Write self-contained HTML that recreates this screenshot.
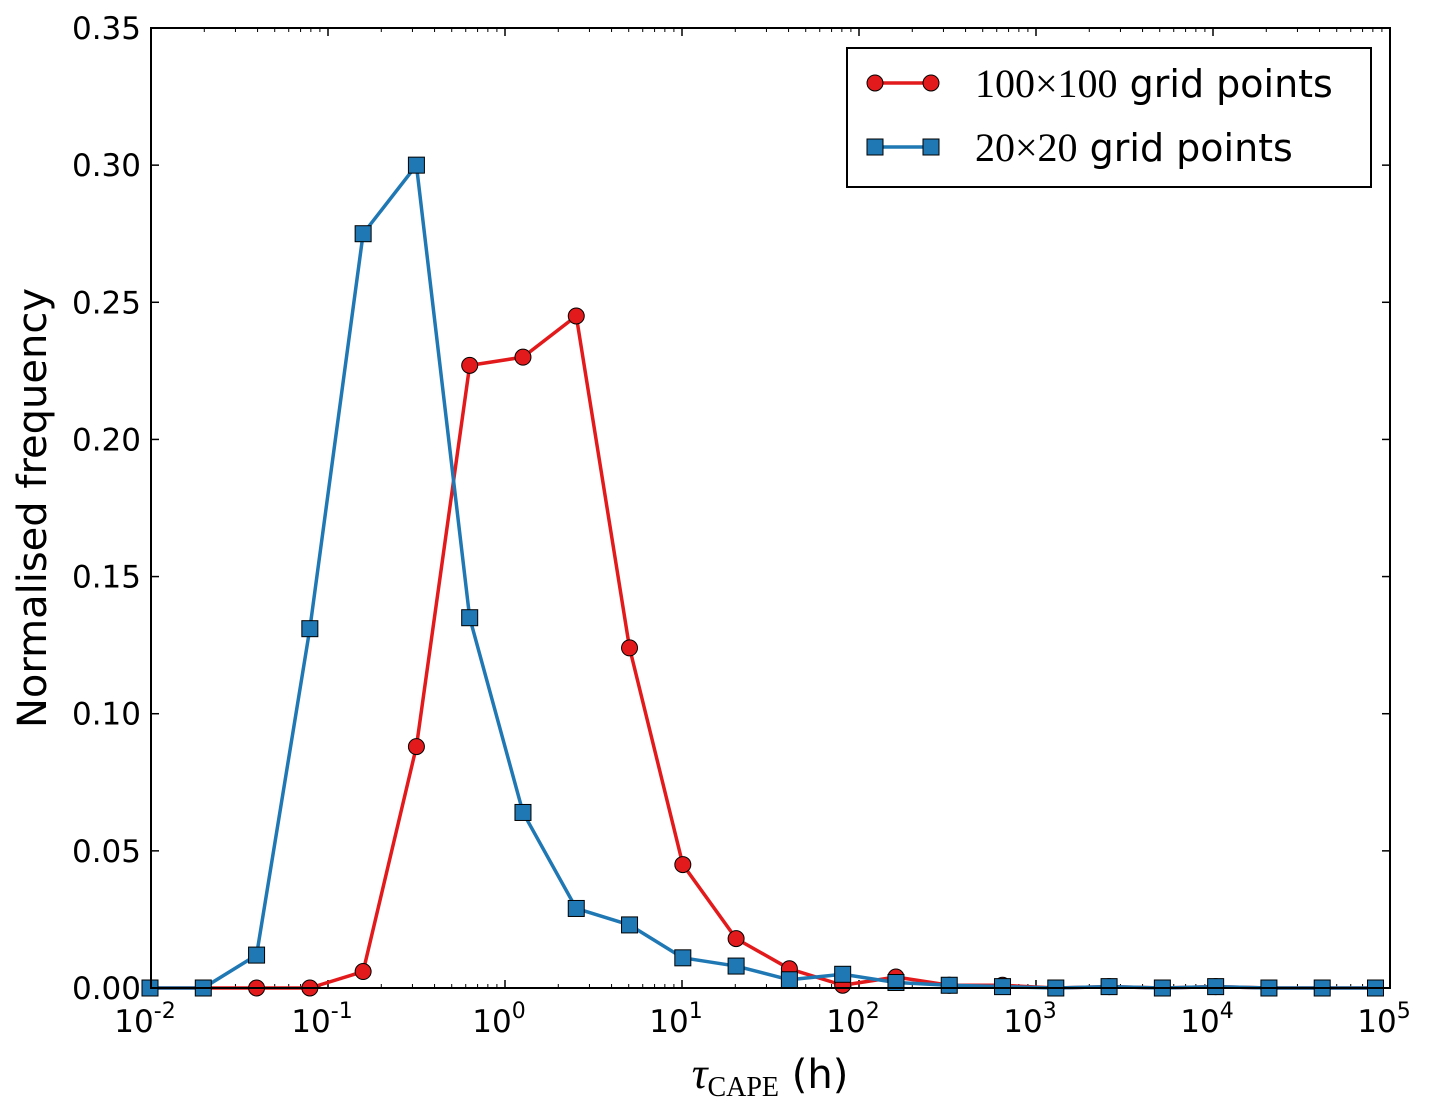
<!DOCTYPE html>
<html><head><meta charset="utf-8"><style>
body{margin:0;background:#fff}
svg{display:block;font-family:"DejaVu Sans","Liberation Sans",sans-serif}
</style></head><body>
<svg id="chart" width="1430" height="1112" viewBox="0 0 1430 1112">
<g id="ticks"></g>
<g id="series"></g>
<rect x="151" y="28" width="1239" height="960" fill="none" stroke="#000" stroke-width="2"/>
<text x="0" y="0" transform="translate(46,508) rotate(-90)" text-anchor="middle" font-size="40">Normalised frequency</text>
<text x="770" y="1088" text-anchor="middle" font-size="40"><tspan font-family="Liberation Serif,serif" font-style="italic" font-size="44">τ</tspan><tspan font-family="Liberation Serif,serif" font-size="28" dy="8">CAPE</tspan><tspan dy="-8"> (h)</tspan></text>
<g>
<rect x="847" y="48" width="524" height="139" fill="#fff" stroke="#000" stroke-width="2"/>
<line x1="875" y1="83" x2="931" y2="83" stroke="#e31a1c" stroke-width="3.5"/>
<circle cx="875" cy="83" r="8" fill="#e31a1c" stroke="#000"/><circle cx="931" cy="83" r="8" fill="#e31a1c" stroke="#000"/>
<text x="975" y="97" font-size="38"><tspan font-family="Liberation Serif,serif" font-size="40">100×100</tspan> grid points</text>
<line x1="875" y1="147" x2="931" y2="147" stroke="#1f78b4" stroke-width="3.5"/>
<rect x="867" y="139" width="16" height="16" fill="#1f78b4" stroke="#000"/><rect x="923" y="139" width="16" height="16" fill="#1f78b4" stroke="#000"/>
<text x="975" y="161" font-size="38"><tspan font-family="Liberation Serif,serif" font-size="40">20×20</tspan> grid points</text>
</g>
</svg>
<script>
const xValues=[0.01,0.02,0.04,0.08,0.16,0.32,0.64,1.28,2.56,5.12,10.24,20.48,40.96,81.92,163.84,327.68,655.36,1310.72,2621.44,5242.88,10485.76,20971.52,41943.04,83886.08];
const redValues=[0,0,0,0,0.006,0.088,0.227,0.230,0.245,0.124,0.045,0.018,0.007,0.001,0.004,0.001,0.001,0,0.0005,0,0.0005,0,0,0];
const blueValues=[0,0,0.012,0.131,0.275,0.300,0.135,0.064,0.029,0.023,0.011,0.008,0.003,0.005,0.002,0.001,0.0005,0,0.0005,0,0.0005,0,0,0];
const yTicks=[0,0.05,0.10,0.15,0.20,0.25,0.30,0.35];
const xExps=[-2,-1,0,1,2,3,4,5];
const X0=151,X1=1390,Y0=988,Y1=28;
const xs=v=>X0+(Math.log10(v)+2)/7*(X1-X0)-1;
const ys=v=>Y0-v/0.35*(Y0-Y1);
const NS='http://www.w3.org/2000/svg';
function mk(tag,attrs,parent){const e=document.createElementNS(NS,tag);for(const k in attrs)e.setAttribute(k,attrs[k]);parent.appendChild(e);return e;}
const T=document.getElementById('ticks');
yTicks.forEach(v=>{const y=ys(v);
mk('line',{x1:X0,y1:y,x2:X0+8,y2:y,stroke:'#000','stroke-width':1.5},T);
mk('line',{x1:X1,y1:y,x2:X1-8,y2:y,stroke:'#000','stroke-width':1.5},T);
const t=mk('text',{x:X0-10,y:y+11,'text-anchor':'end','font-size':31},T);t.textContent=v.toFixed(2);

});
xExps.forEach(e=>{const x=X0+(e+2)/7*(X1-X0);
mk('line',{x1:x,y1:Y0,x2:x,y2:Y0-8,stroke:'#000','stroke-width':1.5},T);
mk('line',{x1:x,y1:Y1,x2:x,y2:Y1+8,stroke:'#000','stroke-width':1.5},T);
if(e<5)for(let m=2;m<10;m++){const xm=X0+(e+2+Math.log10(m))/7*(X1-X0);
mk('line',{x1:xm,y1:Y0,x2:xm,y2:Y0-4,stroke:'#000','stroke-width':1},T);
mk('line',{x1:xm,y1:Y1,x2:xm,y2:Y1+4,stroke:'#000','stroke-width':1},T);}
const t=mk('text',{x:x-6,y:1032,'text-anchor':'middle','font-size':31},T);
t.innerHTML='10<tspan font-size="22" dy="-14">'+e+'</tspan>';

});
const S=document.getElementById('series');
function draw(vals,color,shape,name){
const g=mk('g',{},S);


mk('polyline',{points:xValues.map((x,i)=>xs(x)+','+ys(vals[i])).join(' '),fill:'none',stroke:color,'stroke-width':3.5,'stroke-linejoin':'round'},g);
xValues.forEach((x,i)=>{const cx=xs(x),cy=ys(vals[i]);let m;
if(shape==='c')m=mk('circle',{cx:cx,cy:cy,r:8,fill:color,stroke:'#000'},g);
else m=mk('rect',{x:cx-8,y:cy-8,width:16,height:16,fill:color,stroke:'#000'},g);

});}
draw(redValues,'#e31a1c','c','series-100x100');
draw(blueValues,'#1f78b4','s','series-20x20');
</script>
</body></html>
